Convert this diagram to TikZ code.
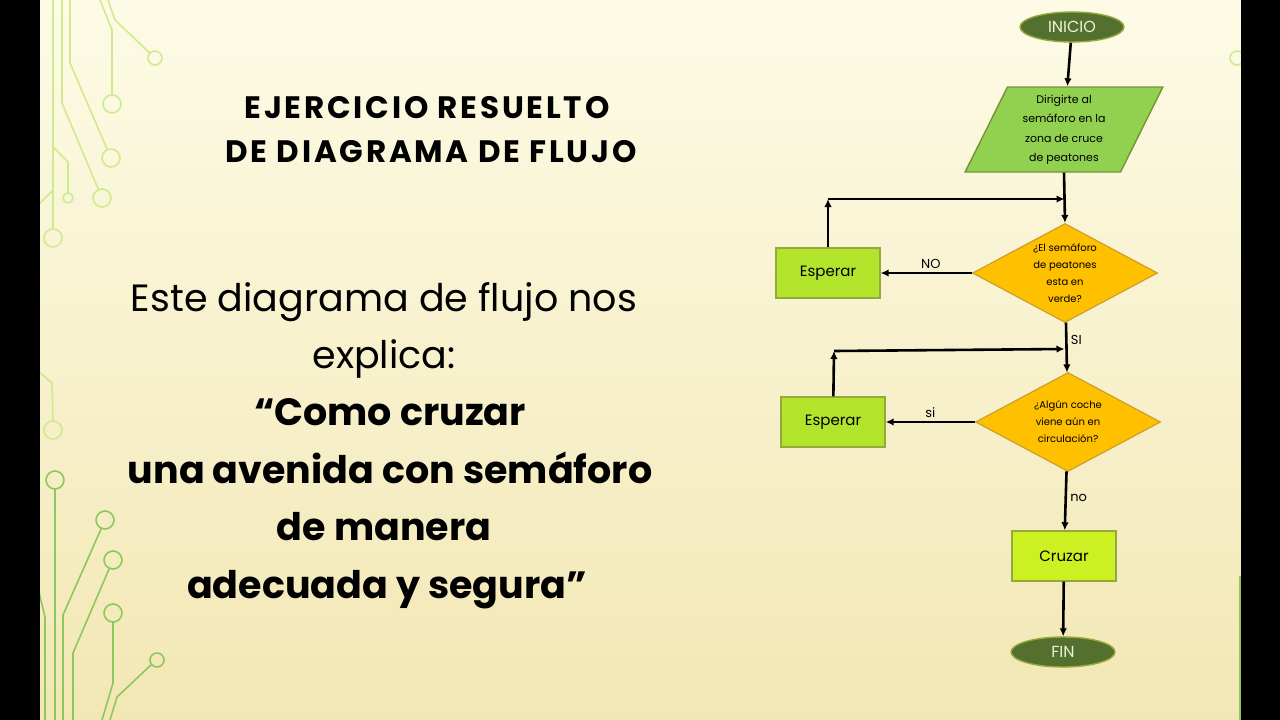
\documentclass[tikz,border=0pt]{standalone}
\usepackage{fontspec}
\setmainfont{Poppins}
\usepackage{tikz}
\usetikzlibrary{arrows.meta, shapes.geometric, positioning}

\definecolor{verdeOscuro}{RGB}{84,112,46}
\definecolor{bordeOliva}{RGB}{150,168,60}
\definecolor{blancoVerde}{RGB}{236,242,222}
\definecolor{verdePara}{RGB}{146,208,80}
\definecolor{bordePara}{RGB}{118,146,60}
\definecolor{naranja}{RGB}{255,192,0}
\definecolor{bordeNaranja}{RGB}{204,160,40}
\definecolor{limaEsperar}{RGB}{178,228,44}
\definecolor{limaCruzar}{RGB}{204,240,34}
\definecolor{lineaClara}{RGB}{208,234,146}
\definecolor{lineaVerde}{RGB}{142,200,92}

\begin{document}
\begin{tikzpicture}[x=1pt, y=-1pt,
  flecha/.style={line width=2.6pt, -{Latex[length=8pt,width=7.5pt]}},
  terminal/.style={ellipse, draw=bordeOliva, line width=1.4pt, fill=verdeOscuro, text=blancoVerde, minimum width=104pt, minimum height=30pt, inner sep=0pt, font=\fontsize{16}{18}\selectfont},
  paralelo/.style={trapezium, trapezium left angle=66, trapezium right angle=114, trapezium stretches=true, draw=bordePara, line width=1.4pt, fill=verdePara, minimum width=198pt, minimum height=85pt, inner sep=0pt, align=center, font=\fontsize{11}{19.5}\selectfont},
  proceso/.style={rectangle, draw=bordeOliva, line width=1.4pt, minimum width=104pt, minimum height=50pt, font=\fontsize{15}{17}\selectfont},
  decision/.style={diamond, draw=bordeNaranja, line width=1.2pt, fill=naranja, shape aspect=1.87, inner sep=0pt, minimum width=185pt, minimum height=99pt, align=center, font=\fontsize{10}{17}\selectfont},
  circuito/.style={line width=1.6pt},
  etiqueta/.style={font=\fontsize{13}{15}\selectfont},
  titulo/.style={anchor=base, font=\bfseries\fontsize{31}{33}\selectfont\addfontfeature{LetterSpace=9}},
  normal/.style={anchor=base, font=\fontsize{38}{40}\selectfont},
  negrita/.style={anchor=base, font=\bfseries\fontsize{38}{40}\selectfont}
]
\useasboundingbox (0,0) rectangle (1280,720);
\shade[top color={rgb,255:red,253;green,251;blue,230}, middle color={rgb,255:red,244;green,235;blue,186}, bottom color={rgb,255:red,242;green,231;blue,180}] (0,0) rectangle (1280,720);

% circuit lines, top left
\begin{scope}[circuito, lineaClara]
\draw (53,0) -- (53,229); \draw (53,238) circle (9);
\draw (62,0) -- (62,103) -- (98.5,189.7); \draw (102,198) circle (9);
\draw (70,0) -- (70,63) -- (107.4,149.7); \draw (111,158) circle (9);
\draw (100,0) -- (112,30) -- (112,95); \draw (112,104) circle (9);
\draw (108,0) -- (115,20) -- (150,53.2); \draw (155,58) circle (7);
\draw (53,147) -- (68,162) -- (68,193); \draw (68,198) circle (5);
\draw (53,190) -- (38,205);
\draw (38,371) -- (52,383) -- (53,421); \draw (53,430) circle (9);
\draw (1237,58) circle (7);
\end{scope}
% circuit lines, bottom left
\begin{scope}[circuito, lineaVerde]
\draw (55,480) circle (9); \draw (55,489) -- (55,720);
\draw (105,520) circle (9); \draw (101.4,528.2) -- (63,615) -- (63,720);
\draw (113,560) circle (9); \draw (109.4,568.2) -- (73,653) -- (73,720);
\draw (113,613) circle (9); \draw (113,622) -- (113,683) -- (102,720);
\draw (157,660) circle (7); \draw (151.6,664.4) -- (117,697) -- (110,720);
\draw (38,588) -- (45,617) -- (45,720);
\draw (1240,576) -- (1240,720);
\end{scope}
\fill[black] (0,0) rectangle (40,720);
\fill[black] (1241,0) rectangle (1280,720);

% Title and text
\node[titulo] (titulo1) at (427,118) {EJERCICIO RESUELTO};
\node[titulo] (titulo2) at (431,162) {DE DIAGRAMA DE FLUJO};
\node[normal] (texto1) at (384,311) {Este diagrama de flujo nos};
\node[normal] (texto2) at (384,368) {explica:};
\node[negrita] (texto3) at (390,425) {“Como cruzar};
\node[negrita] (texto4) at (390,483) {una avenida con semáforo};
\node[negrita] (texto5) at (384,540) {de manera};
\node[negrita] (texto6) at (387,598) {adecuada y segura”};

% Flowchart
\node[terminal] (inicio) at (1072,27) {INICIO};
\node[paralelo] (dirigir) at (1064,129.5) {Dirigirte al\\semáforo en la\\zona de cruce\\de peatones};
\node[decision] (semaforo) at (1065,273) {¿El semáforo\\de peatones\\esta en\\verde?};
\node[proceso, fill=limaEsperar] (esperar1) at (828,273) {Esperar};
\node[decision] (coche) at (1068,422) {¿Algún coche\\viene aún en\\circulación?};
\node[proceso, fill=limaEsperar] (esperar2) at (833,422) {Esperar};
\node[proceso, fill=limaCruzar] (cruzar) at (1064,556) {Cruzar};
\node[terminal] (fin) at (1063,652) {FIN};
\coordinate (esquina1) at (828,199);
\coordinate (union1) at (1064.5,199);
\coordinate (esquina2) at (834,351);
\coordinate (union2) at (1064.5,349);

\draw[flecha] (inicio) -- (dirigir);
\draw[flecha] (dirigir.south) -- (semaforo.north);
\draw[flecha] (semaforo) -- node[etiqueta, above, pos=0.45]{NO} (esperar1);
\draw[flecha] (esperar1) -- (esquina1);
\draw[flecha] (esquina1) -- (union1);
\draw[flecha] (semaforo) -- node[etiqueta, right, pos=0.35]{SI} (coche);
\draw[flecha] (coche) -- node[etiqueta, above, pos=0.5]{si} (esperar2);
\draw[flecha] (esperar2) -- (esquina2);
\draw[flecha] (esquina2) -- (union2);
\draw[flecha] (coche) -- node[etiqueta, right, pos=0.45]{no} (cruzar);
\draw[flecha] (cruzar) -- (fin);
\end{tikzpicture}
\end{document}
